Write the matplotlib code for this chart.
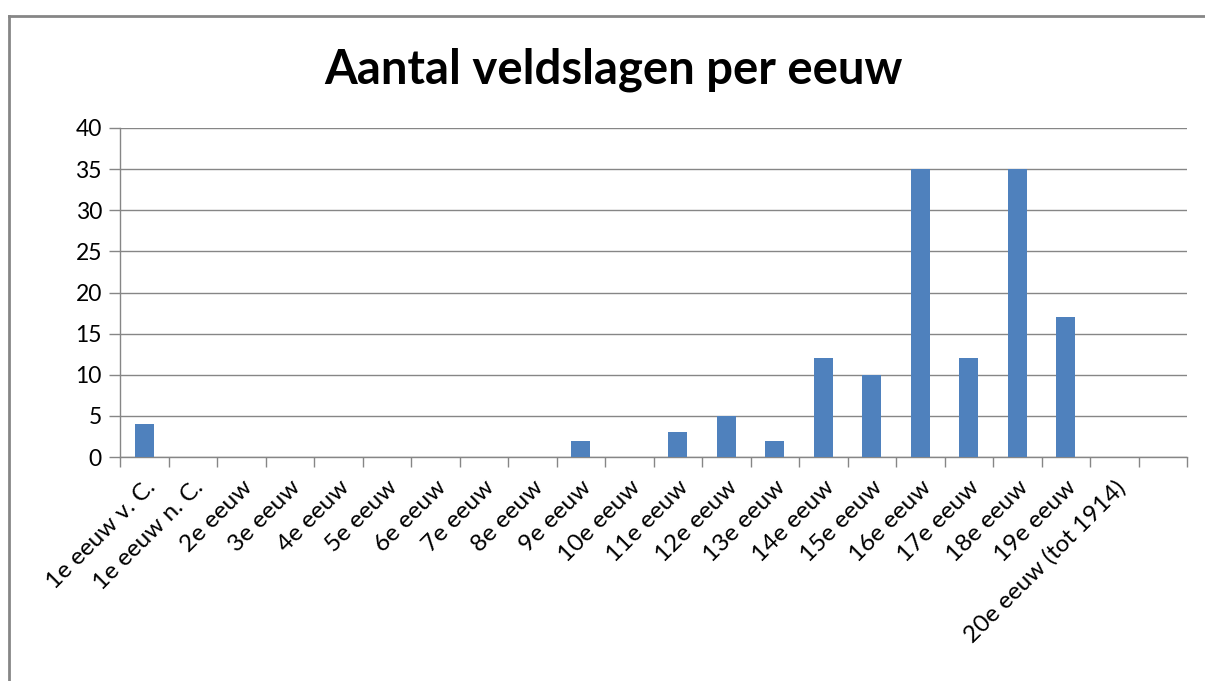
import matplotlib
matplotlib.use("Agg")
import matplotlib.pyplot as plt
import matplotlib.ticker as ticker
from matplotlib.lines import Line2D
import numpy as np

categories = [
    "1e eeuw v. C.", "1e eeuw n. C.", "2e eeuw", "3e eeuw", "4e eeuw",
    "5e eeuw", "6e eeuw", "7e eeuw", "8e eeuw", "9e eeuw", "10e eeuw",
    "11e eeuw", "12e eeuw", "13e eeuw", "14e eeuw", "15e eeuw", "16e eeuw",
    "17e eeuw", "18e eeuw", "19e eeuw", "20e eeuw (tot 1914)", "",
]
values = [4, 0, 0, 0, 0, 0, 0, 0, 0, 2, 0, 3, 5, 2, 12, 10, 35, 12, 35, 17, 0, 0]

plt.rcParams["font.family"] = ["Lato", "DejaVu Sans"]

fig = plt.figure(figsize=(12.05, 6.81), dpi=100)
ax = fig.add_axes([120 / 1205, 1 - 457 / 681, (1187 - 120) / 1205, (457 - 128) / 681])

grey = "#868686"
x = np.arange(len(categories))
ax.bar(x, values, width=0.4, color="#4F81BD", zorder=3)

ax.set_xlim(-0.5, len(categories) - 0.5)
ax.set_ylim(0, 40)
ax.yaxis.set_major_locator(ticker.MultipleLocator(5))
ax.grid(axis="y", color=grey, linewidth=1, zorder=0)

# category ticks sit on the boundaries, labels in the middle
ax.set_xticks(np.arange(len(categories) + 1) - 0.5)
ax.set_xticklabels([])
ax.set_xticks(x, minor=True)
ax.set_xticklabels(categories, minor=True, rotation=45, ha="right",
                   rotation_mode="anchor", fontsize=17.5)
ax.tick_params(axis="x", which="minor", length=0, pad=14)
ax.tick_params(axis="x", which="major", length=7, width=1, color=grey)
ax.tick_params(axis="y", length=8, width=1, color=grey, labelsize=16.5, pad=5)

for side in ["top", "right"]:
    ax.spines[side].set_visible(False)
for side in ["left", "bottom"]:
    ax.spines[side].set_color(grey)
    ax.spines[side].set_linewidth(1)

fig.text(0.509, 1 - 70 / 681, "Aantal veldslagen per eeuw", ha="center",
         va="center", fontsize=34, fontweight="bold")

# chart frame (partly cut off)
fig.add_artist(Line2D([9 / 1205, 1], [1 - 16 / 681] * 2, color=grey, linewidth=2))
fig.add_artist(Line2D([9 / 1205] * 2, [0, 1 - 16 / 681], color=grey, linewidth=2))

fig.savefig("out.png", dpi=100)
